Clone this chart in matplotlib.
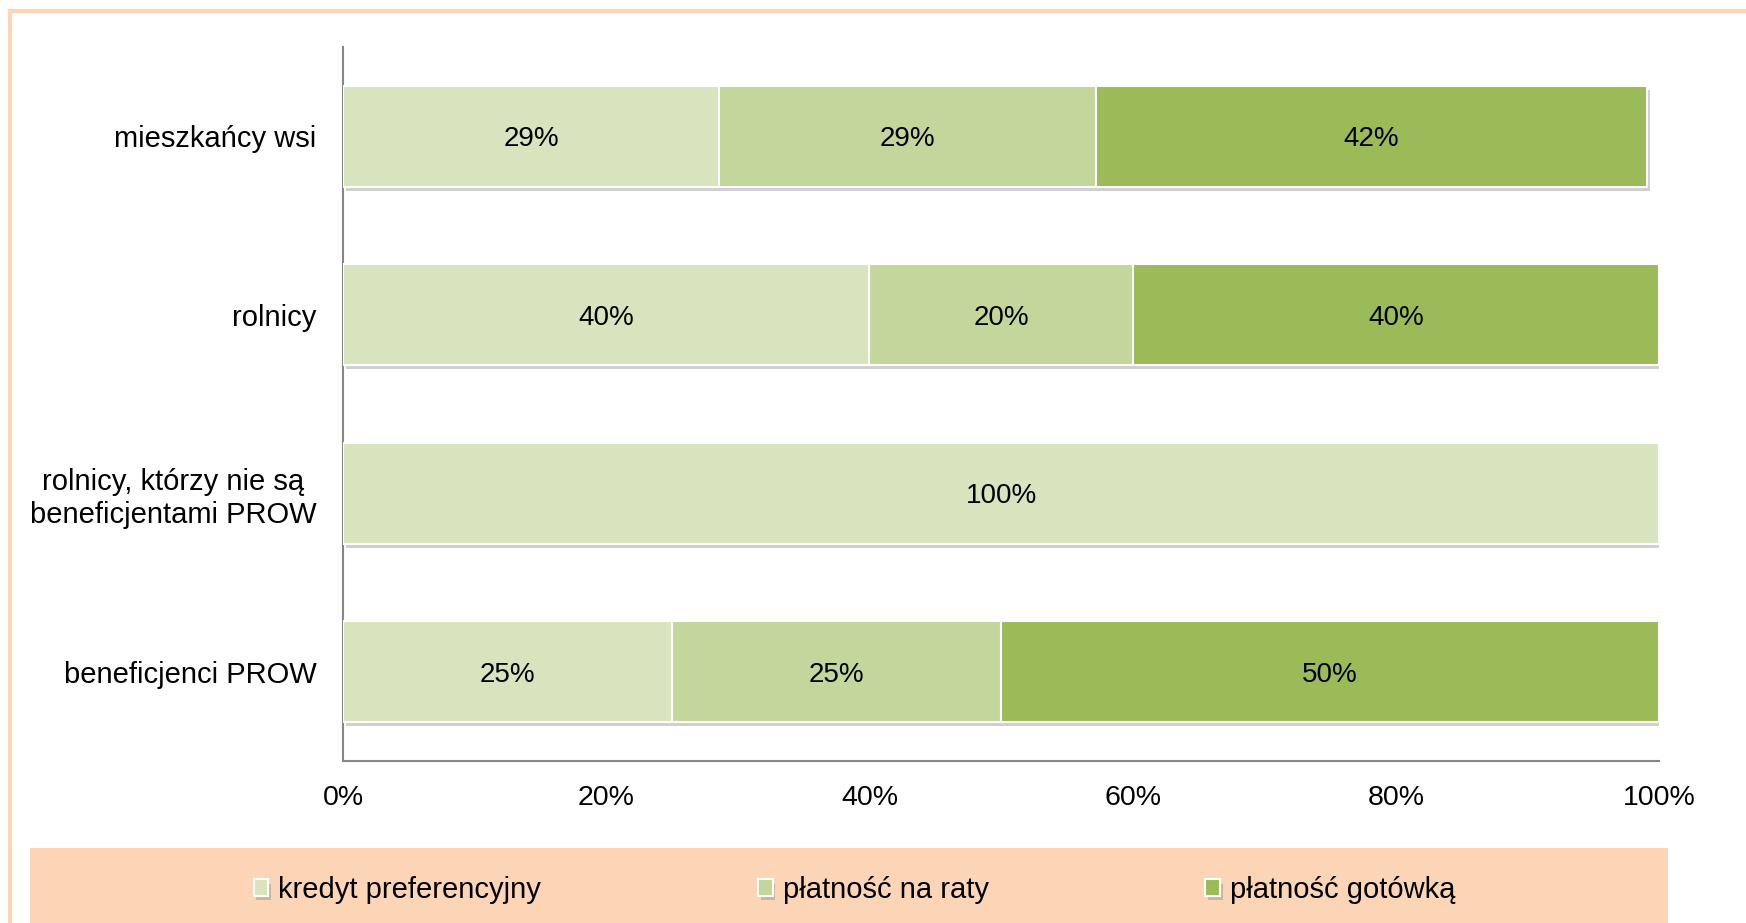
import matplotlib
matplotlib.use("Agg")
import matplotlib.pyplot as plt
import matplotlib.patheffects as pe
from matplotlib.patches import Rectangle
import numpy as np

plt.rcParams['font.family'] = ['Liberation Sans', 'DejaVu Sans']

# dane (kolejność od góry)
kategorie = ['mieszkańcy wsi', 'rolnicy', 'rolnicy, którzy nie są\nbeneficjentami PROW', 'beneficjenci PROW']
serie = ['kredyt preferencyjny', 'płatność na raty', 'płatność gotówką']
kredyt = [28.6, 40.0, 100.0, 25.0]
raty = [28.6, 20.0, 0.0, 25.0]
gotowka = [41.9, 40.0, 0.0, 50.0]
kolory = ['#D7E4BD', '#C3D69B', '#9BBB59']
xticks = [0, 20, 40, 60, 80, 100]


def main():
    W, H = 1746, 923
    fig = plt.figure(figsize=(W / 100, H / 100), dpi=100)

    # ramka i pas legendy
    fig.patches.append(Rectangle((10 / W, -0.1), 1.2, 1 - 11 / H + 0.1, transform=fig.transFigure,
                                 facecolor='none', edgecolor='#FCD5B5', linewidth=3, zorder=0))
    fig.patches.append(Rectangle((30 / W, 0), (1668 - 30) / W, (923 - 848) / H, transform=fig.transFigure,
                                 facecolor='#FBD5B5', edgecolor='none', zorder=0))

    ax = fig.add_axes([343 / W, 1 - 761 / H, (1659 - 343) / W, (761 - 47) / H])
    y = np.arange(len(kategorie))
    left = np.zeros(len(kategorie))
    cien = [pe.SimplePatchShadow(offset=(2, -3), shadow_rgbFace='#777777', alpha=0.35), pe.Normal()]
    for nazwa, wart, kol in zip(serie, [kredyt, raty, gotowka], kolory):
        bars = ax.barh(y, wart, left=left, height=0.565, color=kol, edgecolor='white',
                       linewidth=1.5, label=nazwa, zorder=3)
        for b in bars:
            b.set_path_effects(cien)
        etyk = ['' if v == 0 else f'{v:.0f}%' for v in wart]
        txt = ax.bar_label(bars, labels=etyk, label_type='center', fontsize=20, color='black')
        for t in txt:
            t.set_va('center_baseline')
        left += np.array(wart)

    ax.set_ylim(-0.5, len(kategorie) - 0.5)
    ax.invert_yaxis()
    ax.set_xlim(0, 100)
    ax.set_yticks(y)
    ax.set_yticklabels(kategorie, fontsize=21, ha='right', multialignment='center')
    ax.set_xticks(xticks)
    ax.set_xticklabels([f'{t}%' for t in xticks], fontsize=20.5)
    ax.tick_params(axis='y', length=0, pad=19)
    ax.tick_params(axis='x', length=0, pad=17)
    for s in ['top', 'right']:
        ax.spines[s].set_visible(False)
    for s in ['left', 'bottom']:
        ax.spines[s].set_color('#868686')
        ax.spines[s].set_linewidth(1.5)

    h, l = ax.get_legend_handles_labels()
    fig.legend(h, l, loc='center left', bbox_to_anchor=(239 / W, 1 - 890 / H), ncol=3,
               frameon=False, fontsize=21, handlelength=0.5, handleheight=0.5,
               handletextpad=0.35, columnspacing=7.43, borderpad=0)

    fig.savefig('out.png', dpi=100)


if __name__ == '__main__':
    main()
